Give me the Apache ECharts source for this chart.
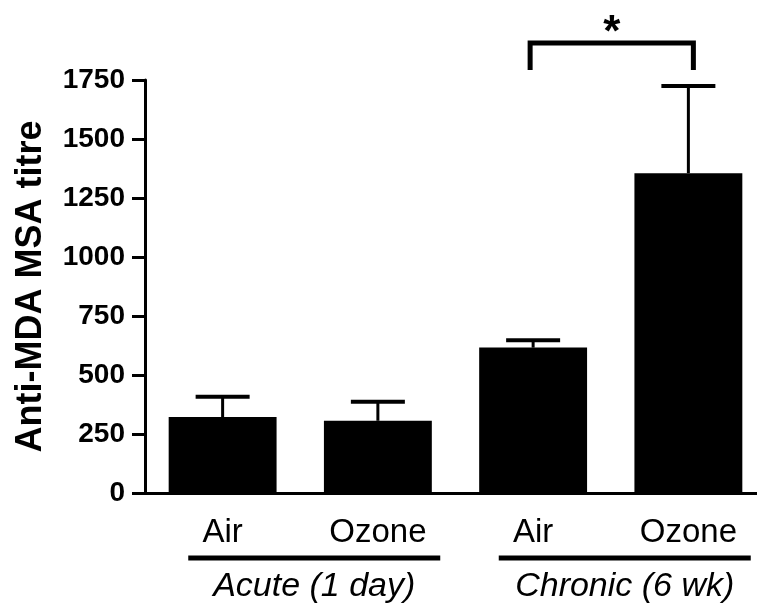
<!DOCTYPE html>
<html>
<head>
<meta charset="utf-8">
<script src="https://cdn.jsdelivr.net/npm/echarts@6/dist/echarts.min.js"></script>
<style>
html,body{margin:0;padding:0;background:#fff;}
#chart{width:757px;height:608px;}
</style>
</head>
<body>
<div id="chart"></div>
<script>
// ---- data ----
const categories = ['Air', 'Ozone', 'Air', 'Ozone'];
const means = [322, 306, 616, 1355];
const upperErr = [408, 387, 647, 1725];
const groupLabels = ['Acute (1 day)', 'Chronic (6 wk)'];
const groupMembers = [[0, 1], [2, 3]];
const sigPairs = [[2, 3]];
const sigLabels = ['*'];
const yName = 'Anti-MDA MSA titre';
const yMin = 0, yMax = 1750, yStep = 250;

const FONT = "'Liberation Sans', Arial, sans-serif";
const chart = echarts.init(document.getElementById('chart'), null, {renderer: 'canvas'});

const option = {
  animation: false,
  backgroundColor: '#fff',
  grid: {left: 145, top: 80, width: 621, height: 413, containLabel: false, outerBoundsMode: 'none'},
  xAxis: {
    type: 'category',
    data: categories,
    axisLine: {lineStyle: {color: '#000', width: 3}},
    axisTick: {show: false},
    axisLabel: {color: '#000', fontSize: 33, fontFamily: FONT, margin: 23}
  },
  yAxis: {
    type: 'value',
    min: yMin, max: yMax, interval: yStep,
    name: yName,
    nameLocation: 'middle',
    nameGap: 96,
    nameTextStyle: {color: '#000', fontSize: 36, fontWeight: 'bold', fontFamily: FONT},
    splitLine: {show: false},
    axisLine: {show: true, lineStyle: {color: '#000', width: 3}},
    axisTick: {show: true, length: 13, lineStyle: {color: '#000', width: 3}},
    axisLabel: {color: '#000', fontSize: 28, fontWeight: 'bold', fontFamily: FONT, margin: 20,
      formatter: v => String(v)}
  },
  series: [
    {
      type: 'bar',
      data: means,
      barWidth: '69.5%',
      itemStyle: {color: '#000'},
      z: 2
    },
    {
      type: 'custom',
      data: upperErr.map((u, i) => [i, means[i], u]),
      z: 1,
      renderItem: function (params, api) {
        const b = api.coord([api.value(0), api.value(1)]);
        const t = api.coord([api.value(0), api.value(2)]);
        const half = 27;
        return {
          type: 'group',
          children: [
            {type: 'line', shape: {x1: b[0], y1: b[1], x2: t[0], y2: t[1]}, style: {stroke: '#000', lineWidth: 3}},
            {type: 'line', shape: {x1: t[0] - half, y1: t[1], x2: t[0] + half, y2: t[1]}, style: {stroke: '#000', lineWidth: 4}}
          ]
        };
      }
    },
    {
      // group underline + label
      type: 'custom',
      data: groupMembers.map(g => [g[0], g[1]]),
      clip: false,
      renderItem: function (params, api) {
        const a = api.coord([api.value(0), 0]);
        const c = api.coord([api.value(1), 0]);
        const cx = (a[0] + c[0]) / 2 + 14;
        const y0 = a[1];
        const half = 126;
        return {
          type: 'group',
          children: [
            {type: 'line', shape: {x1: cx - half, y1: y0 + 65, x2: cx + half, y2: y0 + 65}, style: {stroke: '#000', lineWidth: 5}},
            {type: 'text', x: cx, y: y0 + 94, style: {text: groupLabels[params.dataIndex], fill: '#000', font: 'italic 34px ' + FONT, align: 'center', verticalAlign: 'middle'}}
          ]
        };
      }
    },
    {
      // significance bracket
      type: 'custom',
      data: sigPairs.map(p => [p[0], p[1]]),
      clip: false,
      renderItem: function (params, api) {
        const i0 = api.value(0), i1 = api.value(1);
        const topVal = Math.max(upperErr[i0], upperErr[i1]);
        const a = api.coord([i0, topVal]);
        const c = api.coord([i1, topVal]);
        const x0 = a[0] - 3, x1 = c[0] + 5;
        const yTop = a[1] - 43, yLeg = a[1] - 16;
        return {
          type: 'group',
          children: [
            {type: 'polyline', shape: {points: [[x0, yLeg], [x0, yTop], [x1, yTop], [x1, yLeg]]}, style: {stroke: '#000', lineWidth: 5, fill: null}},
            {type: 'text', x: (x0 + x1) / 2, y: yTop - 9, style: {text: sigLabels[params.dataIndex], fill: '#000', font: 'bold 44px ' + FONT, align: 'center', verticalAlign: 'middle'}}
          ]
        };
      }
    }
  ]
};
chart.setOption(option);
</script>
</body>
</html>
